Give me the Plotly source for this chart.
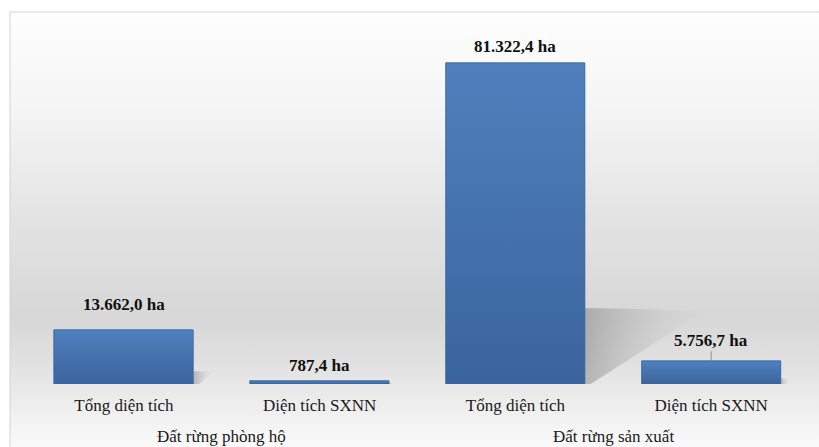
import plotly.graph_objects as go

# Forest land areas (ha)
categories = ["Tổng diện tích", "Diện tích SXNN", "Tổng diện tích", "Diện tích SXNN"]
groups = ["Đất rừng phòng hộ", "Đất rừng sản xuất"]
values = [13662.0, 787.4, 81322.4, 5756.7]
value_labels = ["13.662,0 ha", "787,4 ha", "81.322,4 ha", "5.756,7 ha"]

# label placement (pixel gap above each bar; None = label with leader line)
label_gap = [14, 4, 5, None]

W, H = 819, 447
ML, MR, MT, MB = 26, 10, 30, 63
PW, PH = W - ML - MR, H - MT - MB
BAR_W = 0.71
Y_MAX = 89700


def px_x(p):
    return (p - ML) / PW


def px_y(p):
    return (H - MB - p) / PH


xs = list(range(len(categories)))

fig = go.Figure()

fig.add_trace(go.Bar(
    x=xs, y=values, width=BAR_W,
    marker=dict(color="#4674b0", line=dict(color="#3d68a3", width=0.6)),
    showlegend=False, hoverinfo="skip",
))

# soft perspective shadows cast to the right of each bar
for x, v in zip(xs, values):
    xr = x + BAR_W / 2
    sx = [xr, xr, xr + 7.6e-6 * v, xr + 0.03, xr]
    sy = [0, 0.237 * v, 0.23 * v, 0, 0]
    fig.add_trace(go.Scatter(
        x=sx, y=sy, mode="lines", line=dict(width=0), fill="toself",
        fillgradient=dict(type="horizontal",
                          colorscale=[[0, "rgba(110,110,110,0.42)"],
                                      [1, "rgba(190,190,190,0.0)"]]),
        hoverinfo="skip", showlegend=False,
    ))

# vertical shading on each bar face (darker toward the base)
for x, v in zip(xs, values):
    x0, x1 = x - BAR_W / 2, x + BAR_W / 2
    fig.add_trace(go.Scatter(
        x=[x0, x1, x1, x0, x0], y=[0, 0, v, v, 0], mode="lines",
        line=dict(width=0.6, color="#3f6aa5"), fill="toself",
        fillgradient=dict(type="vertical",
                          colorscale=[[0, "#3a649d"], [1, "#4f80bd"]]),
        hoverinfo="skip", showlegend=False,
    ))

annotations = []
for x, v, t, g in zip(xs, values, value_labels, label_gap):
    font = dict(family="Liberation Serif", size=17, color="#111111")
    if g is None:
        annotations.append(dict(
            x=x, y=v, xref="x", yref="y", text="<b>" + t + "</b>", showarrow=True,
            arrowhead=0, arrowwidth=0.8, arrowcolor="#7f7f7f", ax=0, ay=-21,
            font=font,
        ))
    else:
        annotations.append(dict(
            x=x, y=v, xref="x", yref="y", text="<b>" + t + "</b>", showarrow=False,
            yanchor="bottom", yshift=g, font=font,
        ))

# group captions centred under each pair of bars
for gi, name in enumerate(groups):
    annotations.append(dict(
        x=(xs[2 * gi] + xs[2 * gi + 1]) / 2, y=px_y(436), xref="x", yref="paper",
        text=name, showarrow=False, yanchor="middle",
        font=dict(family="Liberation Serif", size=17, color="#1a1a1a"),
    ))

# chart-area background: vertical grey gradient
svg = (
    "data:image/svg+xml;utf8,"
    "<svg xmlns='http://www.w3.org/2000/svg' width='100' height='100' preserveAspectRatio='none'>"
    "<defs><linearGradient id='g' x1='0' y1='0' x2='0' y2='1'>"
    "<stop offset='0' stop-color='%23fefefe'/>"
    "<stop offset='0.2' stop-color='%23f6f6f6'/>"
    "<stop offset='0.5' stop-color='%23e2e2e2'/>"
    "<stop offset='0.7' stop-color='%23d7d7d7'/>"
    "<stop offset='0.8' stop-color='%23e0e0e0'/>"
    "<stop offset='1' stop-color='%23fafafa'/>"
    "</linearGradient></defs>"
    "<rect width='100' height='100' fill='url(%23g)'/></svg>"
)

fig.update_layout(
    width=W, height=H,
    margin=dict(l=ML, r=MR, t=MT, b=MB),
    paper_bgcolor="white", plot_bgcolor="rgba(0,0,0,0)",
    images=[dict(source=svg, xref="paper", yref="paper",
                 x=px_x(10), y=px_y(12),
                 sizex=px_x(W) - px_x(10), sizey=px_y(12) - px_y(H),
                 xanchor="left", yanchor="top", sizing="stretch", layer="below")],
    shapes=[dict(type="rect", xref="paper", yref="paper",
                 x0=px_x(10), x1=px_x(W + 2), y0=px_y(H + 2), y1=px_y(12),
                 line=dict(color="#d4d4d4", width=1), layer="below")],
    annotations=annotations,
    xaxis=dict(range=[-0.5, len(xs) - 0.5], tickvals=xs, ticktext=categories,
               showgrid=False, zeroline=False, showline=False, ticks="",
               tickfont=dict(family="Liberation Serif", size=17, color="#1a1a1a"),
               ticklabelstandoff=9),
    yaxis=dict(range=[0, Y_MAX], visible=False, showgrid=False, zeroline=False),
    bargap=0,
)

fig.write_html("out.html")
